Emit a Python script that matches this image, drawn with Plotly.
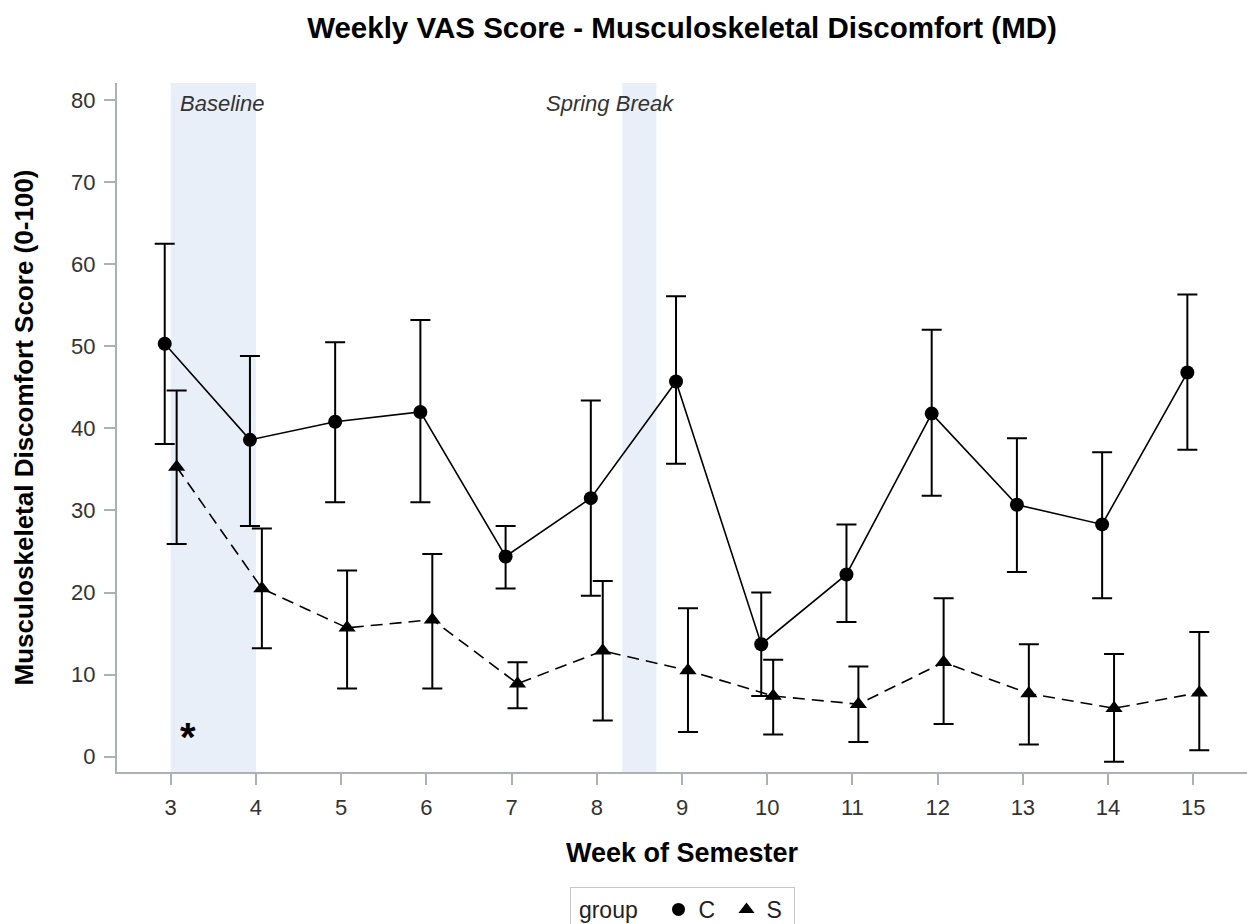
import plotly.graph_objects as go

# ---- data ----
weeks = [3, 4, 5, 6, 7, 8, 9, 10, 11, 12, 13, 14, 15]
week_ticks = [str(w) for w in weeks]

c_mean = [50.3, 38.6, 40.8, 42.0, 24.4, 31.5, 45.7, 13.7, 22.2, 41.8, 30.7, 28.3, 46.8]
c_upper = [62.5, 48.8, 50.5, 53.2, 28.1, 43.4, 56.1, 20.0, 28.3, 52.0, 38.8, 37.1, 56.3]
c_lower = [38.1, 28.1, 31.0, 31.0, 20.5, 19.6, 35.7, 7.4, 16.4, 31.8, 22.5, 19.3, 37.4]

s_mean = [35.3, 20.5, 15.7, 16.7, 8.9, 12.9, 10.5, 7.4, 6.4, 11.5, 7.7, 5.9, 7.8]
s_upper = [44.6, 27.8, 22.7, 24.7, 11.5, 21.4, 18.1, 11.8, 11.0, 19.3, 13.7, 12.5, 15.2]
s_lower = [25.9, 13.2, 8.3, 8.3, 5.9, 4.4, 3.0, 2.7, 1.8, 4.0, 1.5, -0.6, 0.8]

groups = ["C", "S"]
baseline_band = [3.0, 4.0]
spring_band = [8.3, 8.7]
y_ticks = [0, 10, 20, 30, 40, 50, 60, 70, 80]

# ---- styling ----
FONT = "Liberation Sans, Arial, sans-serif"
OFFSET = 0.07
BAND_COLOR = "#E9EFF8"
AXIS_COLOR = "#ADB1B6"
TICK_FONT = dict(family=FONT, size=22, color="#333333")
NBSP = "\u00a0"

cx = [w - OFFSET for w in weeks]
sx = [w + OFFSET for w in weeks]

fig = go.Figure()

for band in (baseline_band, spring_band):
    fig.add_shape(type="rect", xref="x", yref="paper", x0=band[0], x1=band[1],
                  y0=0, y1=1, fillcolor=BAND_COLOR, line_width=0, layer="below")

fig.add_trace(go.Scatter(
    x=cx, y=c_mean, mode="lines+markers", showlegend=False,
    line=dict(color="black", width=1.6),
    marker=dict(symbol="circle", size=14, color="black"),
    error_y=dict(type="data", symmetric=False,
                 array=[u - m for u, m in zip(c_upper, c_mean)],
                 arrayminus=[m - l for m, l in zip(c_mean, c_lower)],
                 color="black", thickness=2, width=10),
))
fig.add_trace(go.Scatter(
    x=sx, y=s_mean, mode="lines+markers", showlegend=False,
    line=dict(color="black", width=1.6, dash="12px,7px"),
    marker=dict(symbol="triangle-up", size=15, color="black"),
    error_y=dict(type="data", symmetric=False,
                 array=[u - m for u, m in zip(s_upper, s_mean)],
                 arrayminus=[m - l for m, l in zip(s_mean, s_lower)],
                 color="black", thickness=2, width=10),
))

# legend-only markers
fig.add_trace(go.Scatter(x=[None], y=[None], mode="markers", name=groups[0] + NBSP,
                         marker=dict(symbol="circle", size=13, color="black")))
fig.add_trace(go.Scatter(x=[None], y=[None], mode="markers", name=groups[1] + NBSP,
                         marker=dict(symbol="triangle-up", size=14, color="black")))

fig.add_annotation(x=3.08, y=79.6, xref="x", yref="y", text="<i>Baseline</i>",
                   showarrow=False, xanchor="left", yanchor="middle",
                   font=dict(family=FONT, size=22, color="#333333"))
fig.add_annotation(x=8.16, y=79.6, xref="x", yref="y", text="<i>Spring Break</i>",
                   showarrow=False, xanchor="center", yanchor="middle",
                   font=dict(family=FONT, size=22, color="#333333"))
fig.add_annotation(x=3.2, y=2.4, xref="x", yref="y", text="<b>*</b>",
                   showarrow=False, xanchor="center", yanchor="middle",
                   font=dict(family=FONT, size=40, color="black"))

fig.update_layout(
    width=1247, height=924,
    margin=dict(l=117, r=0, t=83, b=152, autoexpand=False),
    paper_bgcolor="white", plot_bgcolor="white",
    font=dict(family=FONT, color="#333333"),
    title=dict(text="<b>Weekly VAS Score - Musculoskeletal Discomfort (MD)</b>",
               xref="paper", x=0.5, xanchor="center", y=1 - 28 / 924, yanchor="middle",
               font=dict(family=FONT, size=29.5, color="black")),
    xaxis=dict(range=[2.37, 15.63], tickmode="array", tickvals=weeks, ticktext=week_ticks,
               showgrid=False, zeroline=False, showline=True, linecolor=AXIS_COLOR, linewidth=2,
               ticks="outside", ticklen=11, tickcolor=AXIS_COLOR, tickwidth=2,
               tickfont=TICK_FONT, ticklabelstandoff=4,
               title=dict(text="<b>Week of Semester</b>", standoff=24,
                          font=dict(family=FONT, size=27, color="black"))),
    yaxis=dict(range=[-1.86, 82.07], tickmode="array", tickvals=y_ticks,
               showgrid=False, zeroline=False, showline=True, linecolor=AXIS_COLOR, linewidth=2,
               ticks="outside", ticklen=11, tickcolor=AXIS_COLOR, tickwidth=2,
               tickfont=TICK_FONT, ticklabelstandoff=4,
               title=dict(text="<b>Musculoskeletal Discomfort Score (0-100)</b>", standoff=30,
                          font=dict(family=FONT, size=26, color="black"))),
    legend=dict(orientation="h", x=0.5, xanchor="center", y=-(887 - 772) / 689, yanchor="top",
                title=dict(text=NBSP + "group" + NBSP * 2,
                           font=dict(family=FONT, size=23, color="#222222")),
                font=dict(family=FONT, size=23, color="#222222"),
                bordercolor="#C8C8C8", borderwidth=1, itemwidth=30,
                tracegroupgap=0),
    showlegend=True,
)

fig.write_html("out.html", config={"displayModeBar": False},
               post_script="document.body.style.margin='0px';")
